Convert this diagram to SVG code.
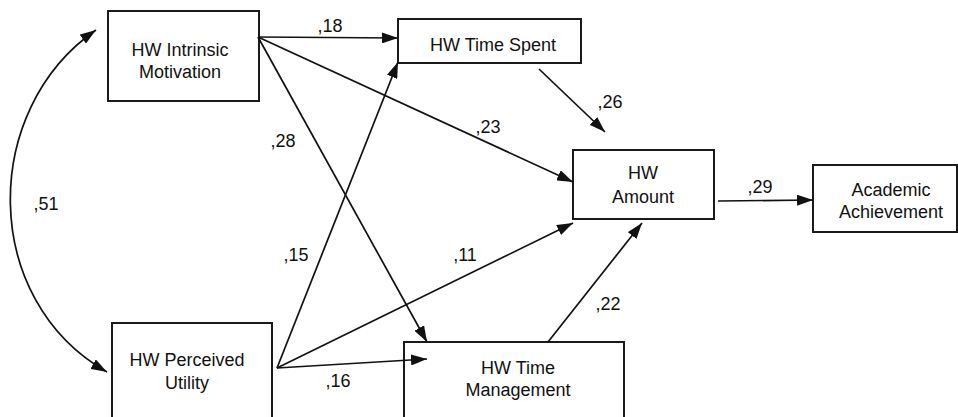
<svg xmlns="http://www.w3.org/2000/svg" width="958" height="417" viewBox="0 0 958 417">
<style>
.box{fill:#fff;stroke:#1a1a1a;stroke-width:2}
.t{font-family:"Liberation Sans",Arial,Helvetica,sans-serif;font-size:18px;fill:#111;text-anchor:middle}
.c{fill:none;stroke:#111;stroke-width:1.7;marker-end:url(#ah)}
</style>
<defs>
<marker id="ah" viewBox="0 0 16 11" refX="16" refY="5.5" markerWidth="16" markerHeight="11" markerUnits="userSpaceOnUse" orient="auto-start-reverse">
<path d="M0,0 L16,5.5 L0,11 z" fill="#111"/>
</marker>
</defs>
<rect width="958" height="417" fill="#fff"/>
<g id="intrinsic">
<rect class="box" x="108" y="11" width="151" height="90"/>
<text class="t" x="180" y="55.5">HW Intrinsic</text>
<text class="t" x="180" y="77.5">Motivation</text>
</g>
<g id="timespent">
<rect class="box" x="398" y="19" width="183" height="44"/>
<text class="t" x="493" y="51">HW Time Spent</text>
</g>
<g id="amount">
<rect class="box" x="573" y="150" width="141" height="69"/>
<text class="t" x="643" y="179">HW</text>
<text class="t" x="643" y="203">Amount</text>
</g>
<g id="achievement">
<rect class="box" x="813" y="165" width="144" height="67"/>
<text class="t" x="891" y="195.5">Academic</text>
<text class="t" x="891" y="217.5">Achievement</text>
</g>
<g id="utility">
<rect class="box" x="112" y="323" width="160" height="110"/>
<text class="t" x="187" y="365.5">HW Perceived</text>
<text class="t" x="187" y="388.5">Utility</text>
</g>
<g id="timemanagement">
<rect class="box" x="404" y="342" width="220" height="90"/>
<text class="t" x="518" y="373.5">HW Time</text>
<text class="t" x="518" y="395.5">Management</text>
</g>
<g id="connectors">
<path class="c" d="M96,30 C-20,110 -20,300 107,372" marker-start="url(#ah)"/>
<line class="c" x1="258" y1="37" x2="398" y2="38"/>
<line class="c" x1="258" y1="37" x2="573" y2="182"/>
<line class="c" x1="258" y1="37" x2="427" y2="342"/>
<line class="c" x1="277" y1="368" x2="398" y2="62"/>
<line class="c" x1="277" y1="368" x2="573" y2="223"/>
<line class="c" x1="277" y1="368" x2="427" y2="359"/>
<line class="c" x1="539" y1="69" x2="605" y2="132"/>
<line class="c" x1="548" y1="342" x2="642" y2="223"/>
<line class="c" x1="718" y1="201" x2="813" y2="200"/>
</g>
<g id="labels">
<text class="t" x="330" y="32">,18</text>
<text class="t" x="610" y="108">,26</text>
<text class="t" x="488" y="133">,23</text>
<text class="t" x="283" y="147">,28</text>
<text class="t" x="46" y="210">,51</text>
<text class="t" x="760" y="193">,29</text>
<text class="t" x="296" y="261">,15</text>
<text class="t" x="465" y="261">,11</text>
<text class="t" x="608" y="310">,22</text>
<text class="t" x="338" y="387">,16</text>
</g>
</svg>
